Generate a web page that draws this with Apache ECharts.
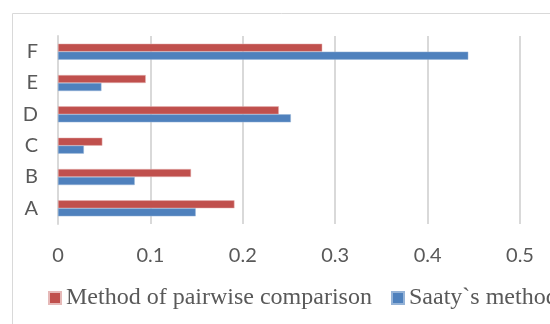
<!DOCTYPE html>
<html>
<head>
<meta charset="utf-8">
<script src="https://cdn.jsdelivr.net/npm/echarts@6/dist/echarts.min.js"></script>
<style>html,body{margin:0;padding:0;background:#fff}#c{width:550px;height:324px}</style>
</head>
<body>
<div id="c"></div>
<script>
var categories = ['A', 'B', 'C', 'D', 'E', 'F'];
var pairwiseValues = [0.191, 0.144, 0.048, 0.239, 0.095, 0.286];
var saatyValues = [0.149, 0.083, 0.028, 0.252, 0.047, 0.444];
var pairwiseName = 'Method of pairwise comparison';
var saatyName = 'Saaty`s method';
var xTicks = [0, 0.1, 0.2, 0.3, 0.4, 0.5];

var chart = echarts.init(document.getElementById('c'));
var legendText = {fontFamily: 'Liberation Serif', fontSize: 24, color: '#595959'};
chart.setOption({
  animation: false,
  graphic: [{
    type: 'rect', left: 10, top: 11, shape: {width: 700, height: 500},
    style: {fill: 'none', stroke: '#D9D9D9', lineWidth: 1}, silent: true
  }],
  grid: {left: 58, right: 30, top: 36, bottom: 100},
  legend: [{
    data: [pairwiseName],
    left: 43, top: 281,
    itemWidth: 12, itemHeight: 12, itemGap: 5,
    icon: 'rect', textStyle: legendText
  }, {
    data: [saatyName],
    left: 386, top: 281, width: 300,
    itemWidth: 12, itemHeight: 12, itemGap: 5,
    icon: 'rect', textStyle: legendText
  }],
  xAxis: {
    type: 'value', min: xTicks[0], max: xTicks[xTicks.length-1], interval: 0.1,
    axisLine: {show: false}, axisTick: {show: false},
    splitLine: {lineStyle: {color: '#D9D9D9', width: 2}},
    axisLabel: {margin: 22, fontFamily: 'Lato', fontSize: 20, color: '#595959'}
  },
  yAxis: {
    type: 'category', data: categories,
    axisLine: {show: true, lineStyle: {color: '#D9D9D9', width: 2}},
    axisTick: {show: false},
    axisLabel: {margin: 20, fontFamily: 'Lato', fontSize: 20, color: '#595959'}
  },
  series: [
    {name: pairwiseName, type: 'bar', data: pairwiseValues, barWidth: 8, barGap: '0%',
     itemStyle: {color: '#C0504D', borderColor: '#E6B9B8', borderWidth: 0.5}},
    {name: saatyName, type: 'bar', data: saatyValues, barWidth: 8, barGap: '0%',
     itemStyle: {color: '#4F81BD', borderColor: '#95B3D7', borderWidth: 0.5}}
  ]
});
</script>
</body>
</html>
